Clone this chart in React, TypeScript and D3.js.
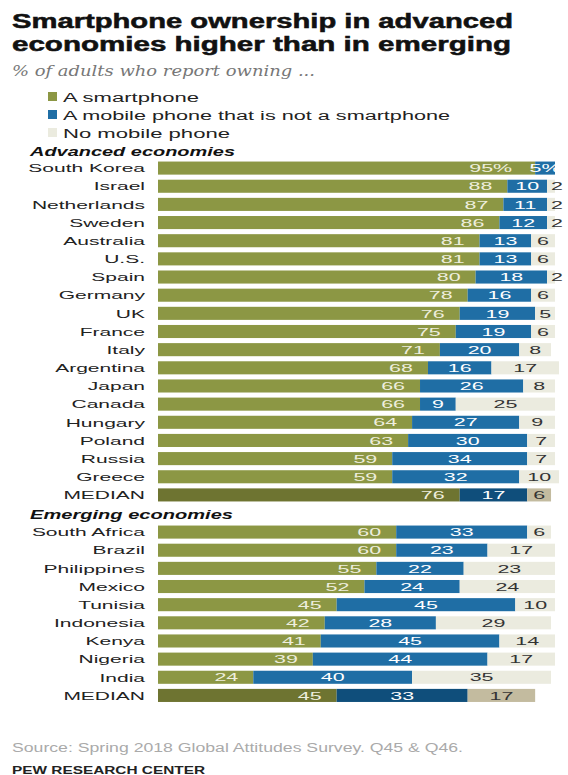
import React from "react";
import * as d3 from "d3";

const advCountries = ["South Korea","Israel","Netherlands","Sweden","Australia","U.S.","Spain","Germany","UK","France","Italy","Argentina","Japan","Canada","Hungary","Poland","Russia","Greece","MEDIAN"];
const advSmart = [95,88,87,86,81,81,80,78,76,75,71,68,66,66,64,63,59,59,76];
const advMobile = [5,10,11,12,13,13,18,16,19,19,20,16,26,9,27,30,34,32,17];
const advNone = [0,2,2,2,6,6,2,6,5,6,8,17,8,25,9,7,7,10,6];

const emgCountries = ["South Africa","Brazil","Philippines","Mexico","Tunisia","Indonesia","Kenya","Nigeria","India","MEDIAN"];
const emgSmart = [60,60,55,52,45,42,41,39,24,45];
const emgMobile = [33,23,22,24,45,28,45,44,40,33];
const emgNone = [6,17,23,24,10,29,14,17,35,17];

const legendLabels = ["A smartphone","A mobile phone that is not a smartphone","No mobile phone"];
const sectionTitles = ["Advanced economies","Emerging economies"];

const W = 568, H = 775;
const SANS = "'Liberation Sans', Arial, sans-serif";
const COL = {
  smart: "#8c9744", mobile: "#1f6ea5", none: "#ebebdf",
  smartM: "#6e7431", mobileM: "#0f4e7b", noneM: "#c3bb9f",
};
const SX_LABEL = 1.78;
const SX_NUM = 1.85;

type Row = { name: string; s: number; m: number; n: number; key: string; median: boolean };

function rows(names: string[], s: number[], m: number[], n: number[], prefix: string): Row[] {
  return names.map((name, i) => ({ name, s: s[i], m: m[i], n: n[i], key: prefix + i, median: name === "MEDIAN" }));
}

function Section({ data, y0, y1, x, first }: { data: Row[]; y0: number; y1: number; x: d3.ScaleLinear<number, number>; first: boolean }) {
  const y = d3.scaleBand<string>().domain(data.map(d => d.key)).range([y0, y1]).paddingInner(0.28).paddingOuter(0.14);
  const bh = y.bandwidth();
  return (
    <g>
      {data.map((d, i) => {
        const top = y(d.key)!;
        const cy = top + bh / 2;
        const xs = x(0), xe1 = x(d.s), xe2 = x(d.s + d.m), xe3 = x(d.s + d.m + d.n);
        const pct = first && i === 0;
        const noneLabelX = Math.max((xe2 + xe3) / 2, xe2 + 10);
        return (
          <g key={d.key}>
            <text transform={`translate(145,${cy}) scale(${SX_LABEL},1)`} textAnchor="end" dy="0.36em" fontFamily={SANS} fontSize={11.8} fill="#222">{d.name}</text>
            <rect x={xs} y={top} width={xe1 - xs} height={bh} fill={d.median ? COL.smartM : COL.smart} />
            <rect x={xe1} y={top} width={xe2 - xe1} height={bh} fill={d.median ? COL.mobileM : COL.mobile} />
            {d.n > 0 && <rect x={xe2} y={top} width={xe3 - xe2} height={bh} fill={d.median ? COL.noneM : COL.none} />}
            <text transform={`translate(${xe1 - (pct ? 23 : 15)},${cy}) scale(${SX_NUM},1)`} textAnchor="end" dy="0.36em" fontFamily={SANS} fontSize={11.6} fill="#eeeedd">{d.s + (pct ? "%" : "")}</text>
            <text transform={`translate(${(xe1 + xe2) / 2},${cy}) scale(${SX_NUM},1)`} textAnchor="middle" dy="0.36em" fontFamily={SANS} fontSize={11.6} fill="#ffffff">{d.m + (pct ? "%" : "")}</text>
            {d.n > 0 && <text transform={`translate(${noneLabelX},${cy}) scale(${SX_NUM},1)`} textAnchor="middle" dy="0.36em" fontFamily={SANS} fontSize={11.6} fill="#333">{d.n}</text>}
          </g>
        );
      })}
    </g>
  );
}

export default function App() {
  const x = d3.scaleLinear().domain([0, 100]).range([158, 555]);
  const adv = rows(advCountries, advSmart, advMobile, advNone, "a");
  const emg = rows(emgCountries, emgSmart, emgMobile, emgNone, "e");
  const legendColors = [COL.smart, COL.mobile, COL.none];
  return (
    <svg width={W} height={H} style={{ position: "absolute", left: 0, top: 0, background: "#fff" }}>
      <text x={12} y={28} fontFamily={SANS} fontWeight="bold" fontSize={19.5} fill="#111" stroke="#111" strokeWidth={0.5} textLength={501} lengthAdjust="spacingAndGlyphs">Smartphone ownership in advanced</text>
      <text x={12} y={51} fontFamily={SANS} fontWeight="bold" fontSize={19.5} fill="#111" stroke="#111" strokeWidth={0.5} textLength={499} lengthAdjust="spacingAndGlyphs">economies higher than in emerging</text>
      <text x={12} y={76} fontFamily="'DejaVu Serif', 'Liberation Serif', serif" fontStyle="italic" fontSize={14.5} fill="#777" textLength={303} lengthAdjust="spacingAndGlyphs">% of adults who report owning ...</text>
      {legendLabels.map((l, i) => (
        <g key={l}>
          <rect x={48} y={92 + i * 18} width={9} height={9} fill={legendColors[i]} />
          <text x={63} y={97 + i * 18} dy="0.36em" fontFamily={SANS} fontSize={12.5} fill="#222" textLength={[136, 387, 167][i]} lengthAdjust="spacingAndGlyphs">{l}</text>
        </g>
      ))}
      <text x={30} y={151} dy="0.36em" fontFamily={SANS} fontWeight="bold" fontStyle="italic" fontSize={12.5} fill="#111" textLength={205} lengthAdjust="spacingAndGlyphs">{sectionTitles[0]}</text>
      <Section data={adv} y0={159} y1={504} x={x} first={true} />
      <text x={30} y={514} dy="0.36em" fontFamily={SANS} fontWeight="bold" fontStyle="italic" fontSize={12.5} fill="#111" textLength={203} lengthAdjust="spacingAndGlyphs">{sectionTitles[1]}</text>
      <Section data={emg} y0={523} y1={704.5} x={x} first={false} />
      <text x={12} y={748} dy="0.36em" fontFamily={SANS} fontSize={12} fill="#aaa" textLength={451} lengthAdjust="spacingAndGlyphs">Source: Spring 2018 Global Attitudes Survey. Q45 &amp; Q46.</text>
      <text x={12} y={770} dy="0.36em" fontFamily={SANS} fontWeight="bold" fontSize={11} fill="#222" textLength={193} lengthAdjust="spacingAndGlyphs">PEW RESEARCH CENTER</text>
    </svg>
  );
}
